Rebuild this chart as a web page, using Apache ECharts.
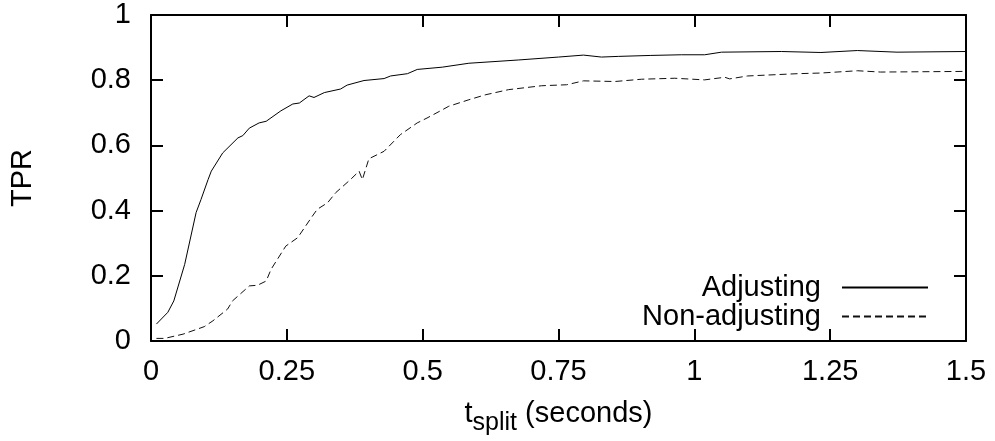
<!DOCTYPE html>
<html>
<head>
<meta charset="utf-8">
<script src="https://cdn.jsdelivr.net/npm/echarts@6/dist/echarts.min.js"></script>
<style>
  html, body { margin: 0; padding: 0; background: #fff; }
  #chart { width: 995px; height: 441px; }
</style>
</head>
<body>
<div id="chart"></div>
<script>
// values
var adjX = [0.01, 0.031, 0.042, 0.062, 0.083, 0.092, 0.105, 0.111, 0.132, 0.160, 0.169, 0.181, 0.199, 0.212,
            0.239, 0.261, 0.273, 0.291, 0.300, 0.319, 0.349, 0.361, 0.392, 0.429, 0.441, 0.472, 0.490, 0.536,
            0.585, 0.676, 0.75, 0.796, 0.829, 0.860, 0.92, 0.976, 1.019, 1.05, 1.16, 1.233, 1.30, 1.373, 1.5];
var adjY = [0.052, 0.088, 0.123, 0.235, 0.394, 0.434, 0.495, 0.521, 0.577, 0.623, 0.630, 0.653, 0.669, 0.674,
            0.706, 0.727, 0.730, 0.752, 0.747, 0.762, 0.773, 0.785, 0.799, 0.805, 0.813, 0.820, 0.833, 0.840,
            0.852, 0.862, 0.871, 0.877, 0.871, 0.873, 0.876, 0.878, 0.878, 0.886, 0.888, 0.885, 0.891, 0.886, 0.888];

var nonX = [0.01, 0.025, 0.059, 0.098, 0.114, 0.141, 0.150, 0.181, 0.196, 0.212, 0.221, 0.248, 0.270, 0.297,
            0.306, 0.325, 0.340, 0.367, 0.383, 0.389, 0.401, 0.429, 0.459, 0.490, 0.508, 0.536, 0.548, 0.585,
            0.615, 0.658, 0.719, 0.765, 0.796, 0.854, 0.903, 0.964, 1.019, 1.056, 1.065, 1.098, 1.19, 1.233,
            1.30, 1.343, 1.5];
var nonY = [0.008, 0.008, 0.021, 0.044, 0.062, 0.098, 0.123, 0.169, 0.171, 0.184, 0.220, 0.291, 0.317, 0.383,
            0.404, 0.424, 0.455, 0.495, 0.521, 0.495, 0.559, 0.582, 0.633, 0.669, 0.684, 0.709, 0.720, 0.740,
            0.755, 0.771, 0.783, 0.786, 0.798, 0.796, 0.803, 0.806, 0.801, 0.809, 0.804, 0.813, 0.820, 0.822,
            0.829, 0.825, 0.827];

var seriesNames = ['Adjusting', 'Non-adjusting'];

function pairs(xs, ys) {
    return xs.map(function (x, i) { return [x, ys[i]]; });
}

var font = 'Liberation Sans, Arial, sans-serif';
var fs = 29;
var chart = echarts.init(document.getElementById('chart'));

var mirrorTick = { show: true, inside: true, length: 12, lineStyle: { color: '#000', width: 2 } };
var axisLn = { show: true, onZero: false, lineStyle: { color: '#000', width: 2 } };

function legendFor(name, top) {
    return {
        data: [name], align: 'right', right: 66, top: top, padding: 0,
        itemWidth: 86, itemHeight: 20,
        itemStyle: { opacity: 0 },
        textStyle: { fontSize: fs, fontFamily: font, color: '#000', padding: [0, 16, 0, 0] }
    };
}

var option = {
    animation: false,
    backgroundColor: '#fff',
    grid: { left: 148, right: 29, top: 15, bottom: 99 },
    legend: [legendFor(seriesNames[0], 273), legendFor(seriesNames[1], 302)],
    xAxis: [
        {
            type: 'value', min: 0, max: 1.5, interval: 0.25,
            axisLine: axisLn, axisTick: mirrorTick, splitLine: { show: false },
            axisLabel: { fontSize: fs, fontFamily: font, color: '#000', margin: 16 },
            name: '{a|t}{s|split}{a| (seconds)}',
            nameLocation: 'middle', nameGap: 50,
            nameTextStyle: {
                fontFamily: font, color: '#000',
                rich: {
                    a: { fontSize: fs, fontFamily: font, color: '#000' },
                    s: { fontSize: 25, fontFamily: font, color: '#000', padding: [20, 0, 0, 0] }
                }
            }
        },
        {
            type: 'value', position: 'top', min: 0, max: 1.5, interval: 0.25,
            axisLine: axisLn, axisTick: mirrorTick, axisLabel: { show: false }, splitLine: { show: false }
        }
    ],
    yAxis: [
        {
            type: 'value', min: 0, max: 1, interval: 0.2,
            axisLine: axisLn, axisTick: mirrorTick, splitLine: { show: false },
            axisLabel: { fontSize: fs, fontFamily: font, color: '#000', margin: 20 },
            name: 'TPR', nameLocation: 'middle', nameGap: 114, nameRotate: 90,
            nameTextStyle: { fontSize: fs, fontFamily: font, color: '#000' }
        },
        {
            type: 'value', position: 'right', min: 0, max: 1, interval: 0.2,
            axisLine: axisLn, axisTick: mirrorTick, axisLabel: { show: false }, splitLine: { show: false }
        }
    ],
    series: [
        {
            name: seriesNames[0], type: 'line', symbol: 'none',
            lineStyle: { color: '#000', width: 1 }, itemStyle: { color: '#000' },
            data: pairs(adjX, adjY)
        },
        {
            name: seriesNames[1], type: 'line', symbol: 'none',
            lineStyle: { color: '#111', width: 1, type: [7, 4] }, itemStyle: { color: '#111' },
            data: pairs(nonX, nonY)
        }
    ]
};

chart.setOption(option);
</script>
</body>
</html>
